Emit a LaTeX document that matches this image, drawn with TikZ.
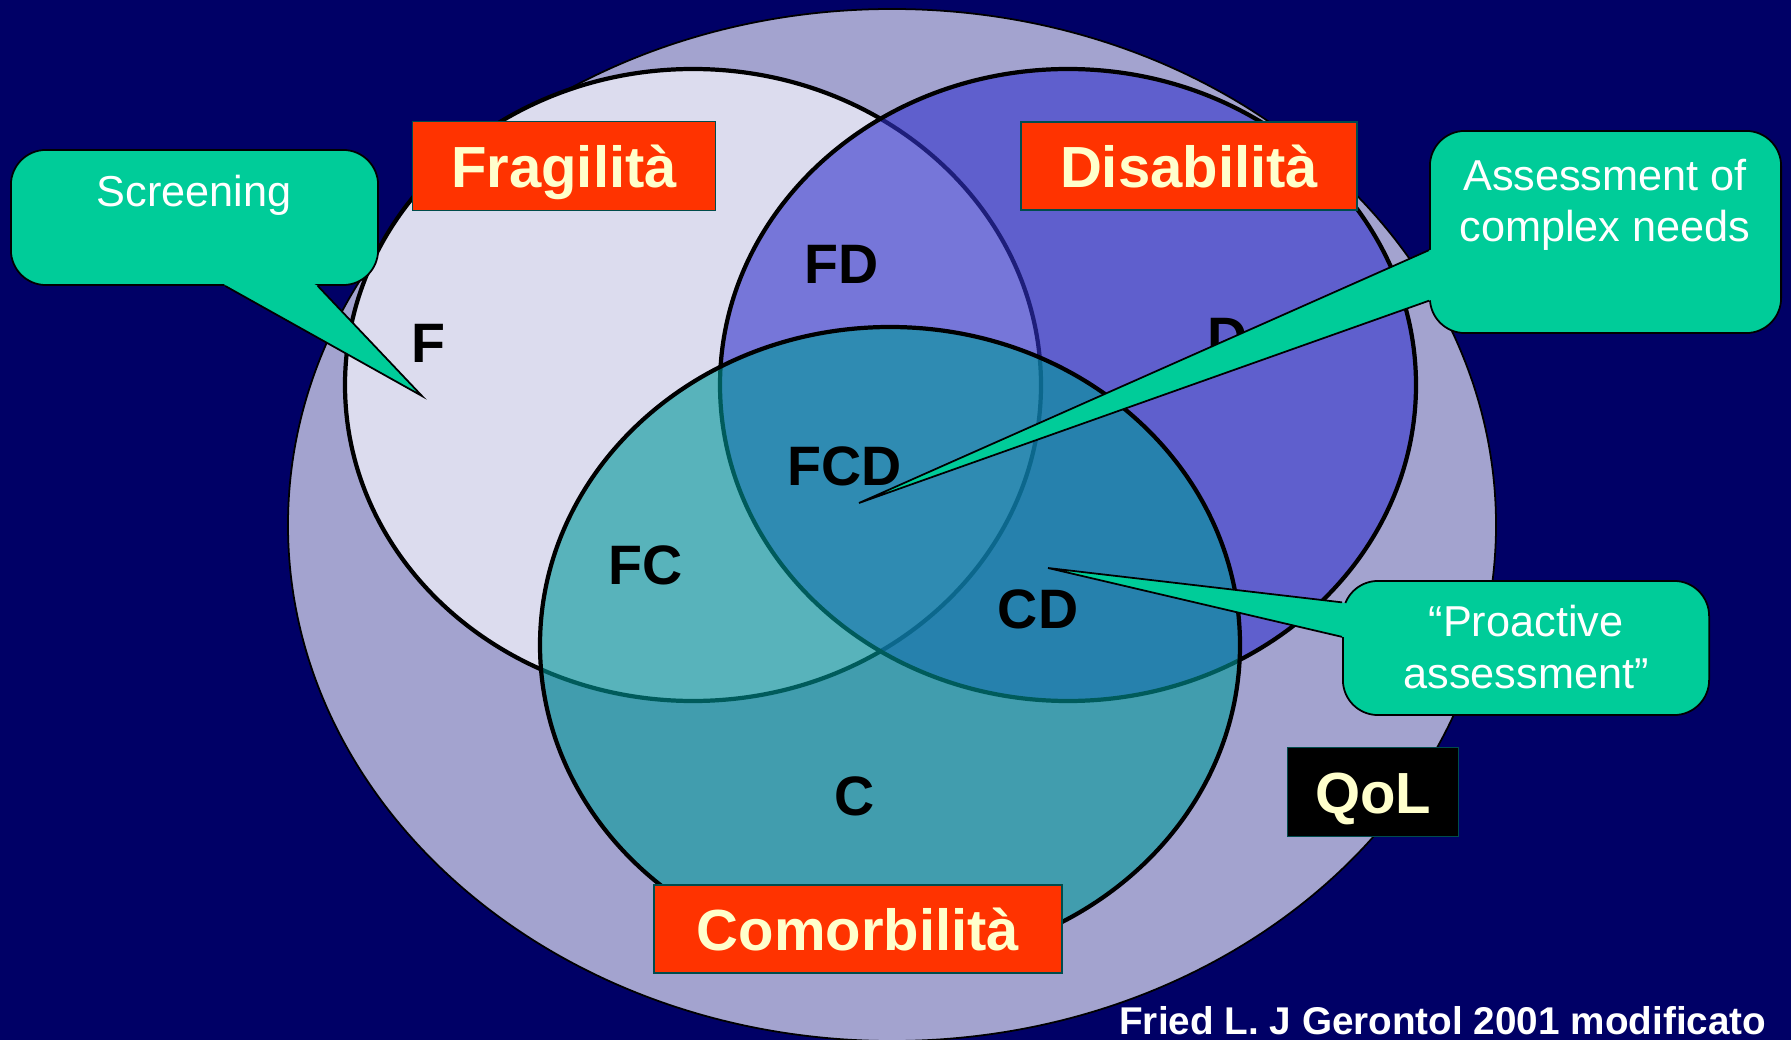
\documentclass[tikz,border=0pt]{standalone}
\usepackage{fontspec}
\setmainfont{Liberation Sans}
\usetikzlibrary{positioning, calc}
\definecolor{navybg}{HTML}{000066}
\definecolor{qolfill}{HTML}{A3A3CF}
\definecolor{fragfill}{HTML}{DCDCEE}
\definecolor{disabfill}{HTML}{3333CC}
\definecolor{comorbfill}{HTML}{009999}
\definecolor{titlered}{HTML}{FF3300}
\definecolor{titletext}{HTML}{FFFFCC}
\definecolor{callfill}{HTML}{00CC99}
\tikzset{
  set/.style={draw=black, line width=1.2pt}, % the three overlapping sets
  title/.style={fill=titlered, draw=teal!60!black, line width=0.4pt, text=titletext,
    font=\fontsize{16.5}{20}\selectfont\bfseries, inner sep=0pt,
    text height=12.4pt, text depth=0pt}, % red name boxes
  region/.style={font=\fontsize{15.8}{19}\selectfont\bfseries, text=black}, % F, FD, FCD ...
  callbox/.style={fill=callfill, draw=black, line width=0.5pt, rounded corners=0.35cm,
    inner sep=0pt}, % green speech boxes
  calltext/.style={text=white, font=\fontsize{12.3}{14.6}\selectfont, align=center},
  pointer/.style={draw=black, line width=0.5pt, line join=miter}, % edges of the callout tails
}

\begin{document}
\begin{tikzpicture}[x=0.01cm, y=-0.01cm]
  \useasboundingbox (0,0) rectangle (1791,1040);
  \fill[navybg] (0,0) rectangle (1791,1040);
  \clip (0,0) rectangle (1791,1040);

  % quality of life and the three sets
  \filldraw[fill=qolfill, draw=black, line width=0.5pt] (892,525) ellipse [x radius=604, y radius=516];
  \filldraw[set, fill=fragfill] (693,385) ellipse [x radius=348, y radius=316];
  \filldraw[set, fill=disabfill, fill opacity=0.6] (1068,385) ellipse [x radius=348, y radius=316];
  \filldraw[set, fill=comorbfill, fill opacity=0.6] (890,645) ellipse [x radius=350, y radius=318];

  \node[region] (f) at (428,343) {F};
  \node[region] (fd) at (842,264) {FD};
  \node[region] (d) at (1228,337) {D};
  \node[region] (fcd) at (845,466) {FCD};
  \node[region] (fc) at (646,565) {FC};
  \node[region] (cd) at (1038,609) {CD};
  \node[region] (c) at (855,796) {C};

  \node[title, minimum width=3.03cm, minimum height=0.89cm] (frag) at (564,166) {Fragilità};
  \node[title, minimum width=3.36cm, minimum height=0.88cm] (disab) at (1189,166) {Disabilità};
  \node[title, minimum width=4.08cm, minimum height=0.88cm] (comorb) at (858,929) {Comorbilità};
  \node[title, fill=black, minimum width=1.71cm, minimum height=0.89cm] (qol) at (1373,792) {QoL};

  % callouts
  \node[callbox, minimum width=3.67cm, minimum height=1.35cm] (screen) at (194.5,217.5) {};
  \coordinate (screen tip) at (422,396);
  \coordinate (screen a) at ($(screen.south west)!.583!(screen.south east)$);
  \coordinate (screen b) at ($(screen.south west)!.834!(screen.south east)$);
  \fill[callfill] (screen a) -- (screen tip) -- (screen b) -- (screen.center) -- cycle;
  \draw[pointer] (screen a) -- (screen tip) -- (screen b);
  \node[calltext] (screentext) at (194,195) {Screening};

  \node[callbox, minimum width=3.51cm, minimum height=2.02cm] (assess) at (1605.5,232) {};
  \coordinate (assess tip) at (859,503);
  \coordinate (assess a) at ($(assess.north west)!.589!(assess.south west)$);
  \coordinate (assess b) at ($(assess.north west)!.837!(assess.south west)$);
  \fill[callfill] (assess a) -- (assess tip) -- (assess b) -- (assess.center) -- cycle;
  \draw[pointer] (assess a) -- (assess tip) -- (assess b);
  \node[calltext] (assesstext) at (1605,205) {Assessment of\\complex needs};

  \node[callbox, minimum width=3.66cm, minimum height=1.34cm] (proact) at (1526,648) {};
  \coordinate (proact tip) at (1048,568);
  \coordinate (proact a) at ($(proact.north west)!.164!(proact.south west)$);
  \coordinate (proact b) at ($(proact.north west)!.418!(proact.south west)$);
  \fill[callfill] (proact a) -- (proact tip) -- (proact b) -- (proact.center) -- cycle;
  \draw[pointer] (proact a) -- (proact tip) -- (proact b);
  \node[calltext] (proacttext) at (1526,647) {“Proactive\\assessment”};

  \node[anchor=base east, inner sep=0pt, text=white, font=\fontsize{11}{13}\selectfont\bfseries] (cite)
    at (1767,1034) {Fried L. J Gerontol 2001 modificato};
\end{tikzpicture}
\end{document}
